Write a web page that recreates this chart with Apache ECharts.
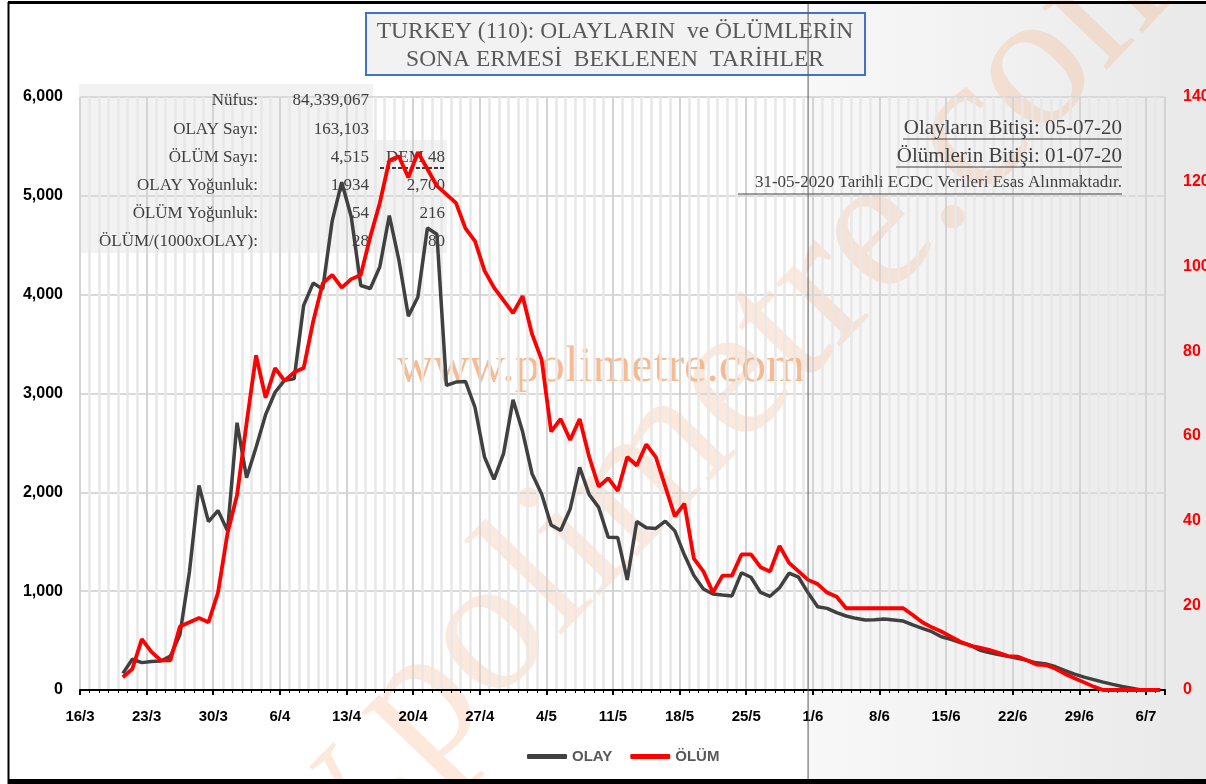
<!DOCTYPE html>
<html lang="tr">
<head>
<meta charset="utf-8">
<title>Turkey olay / ölüm</title>
<script src="https://cdn.jsdelivr.net/npm/echarts@6/dist/echarts.min.js"></script>
</head>
<body style="margin:0;background:#fff">
<div id="container" style="width:1206px;height:784px"></div>
<script type="text/javascript">
// x ekseni 16/3'ten itibaren gün sayısı, etiketler haftalık
var weekLabels = ['16/3', '23/3', '30/3', '6/4', '13/4', '20/4', '27/4', '4/5', '11/5', '18/5', '25/5', '1/6', '8/6', '15/6', '22/6', '29/6', '6/7'];
var firstDay = 4;    // ilk veri: 20/3
var lastDataDay = 76; // 31/5 - ECDC verisinin son günü, sonrası tahmin

// günlük OLAY (20/3 - 7/7)
var olay = [168, 311, 277, 289, 293, 343, 561, 1196, 2069, 1704,
    1815, 1610, 2704, 2148, 2456, 2786, 3013, 3135, 3148, 3892,
    4117, 4056, 4747, 5138, 4789, 4093, 4062, 4281, 4801, 4353,
    3783, 3977, 4674, 4611, 3083, 3116, 3122, 2861, 2357, 2131,
    2392, 2936, 2615, 2188, 1983, 1670, 1614, 1832, 2253, 1977,
    1848, 1546, 1542, 1114, 1704, 1641, 1635, 1708, 1610, 1368,
    1158, 1022, 972, 961, 952, 1186, 1141, 987, 948, 1035,
    1182, 1141, 983,
    843, 826, 782, 749, 725, 708, 712, 718, 708, 698,
    658, 624, 590, 539, 513, 480, 455, 405, 380, 360,
    340, 321, 300, 275, 263, 235, 195, 160, 130, 105,
    80, 57, 35, 18, 0, 0, 0];

// günlük ÖLÜM (20/3 - 7/7)
var olum = [3, 5, 12, 9, 7, 7, 15, 16, 17, 16,
    23, 37, 46, 63, 79, 69, 76, 73, 75, 76,
    87, 96, 98, 95, 97, 98, 107, 115, 125, 126,
    121, 127, 123, 119, 117, 115, 109, 106, 99, 95,
    92, 89, 93, 84, 78, 61, 64, 59, 64, 55,
    48, 50, 47, 55, 53, 58, 55, 48, 41, 44,
    31, 28, 23, 27, 27, 32, 32, 29, 28, 34,
    30, 28, 26,
    25, 23, 22, 19.3, 19.3, 19.3, 19.3, 19.3, 19.3, 19.3,
    17.7, 16, 14.8, 13.8, 12.6, 11.4, 10.5, 10, 9.5, 8.8,
    8, 7.9, 7, 6, 5.9, 5, 3.8, 2.8, 1.8, 0.8,
    0, 0, 0, 0, 0, 0, 0];

var tableLabels = ['Nüfus:', 'OLAY Sayı:', 'ÖLÜM Sayı:', 'OLAY Yoğunluk:', 'ÖLÜM Yoğunluk:', 'ÖLÜM/(1000xOLAY):'];
var tableCol1 = ['84,339,067', '163,103', '4,515', '1,934', '54', '28'];
var tableCol2 = ['', '', 'DEM 48', '2,700', '216', '80'];
var endTexts = ['Olayların Bitişi: 05-07-20', 'Ölümlerin Bitişi: 01-07-20', '31-05-2020 Tarihli ECDC Verileri Esas Alınmaktadır.'];

function toPoints(arr) {
    return arr.map(function (v, k) { return [firstDay + k + 0.5, v]; });
}

var serif = '"Liberation Serif", "Times New Roman", serif';
var sans = '"Liberation Sans", Arial, sans-serif';

var myChart = echarts.init(document.getElementById('container'));
var option = {
    backgroundColor: '#fff',
    animation: false,
    grid: { left: 80, right: 41, top: 97, bottom: 94, containLabel: false, outerBoundsMode: 'none' },
    legend: {
        data: ['OLAY', 'ÖLÜM'],
        top: 744,
        left: 522,
        icon: 'roundRect',
        itemWidth: 40,
        itemHeight: 5,
        itemGap: 18,
        textStyle: { color: '#595959', fontWeight: 'bold', fontSize: 15, fontFamily: sans }
    },
    xAxis: {
        type: 'value',
        min: 0,
        max: 114,
        interval: 7,
        axisLine: { lineStyle: { color: '#000', width: 2 } },
        axisTick: { show: true, length: 5, lineStyle: { color: '#000', width: 2 } },
        minorTick: { show: true, splitNumber: 7, length: 3, lineStyle: { color: '#000', width: 1 } },
        splitLine: { show: true, lineStyle: { color: '#d4d4d4', width: 2 } },
        minorSplitLine: { show: true, lineStyle: { color: '#e8e8e8', width: 2.5 } },
        axisLabel: {
            margin: 19,
            color: '#000',
            fontWeight: 'bold',
            fontSize: 15,
            fontFamily: sans,
            formatter: function (v) {
                return v % 7 === 0 ? (weekLabels[v / 7] || '') : '';
            }
        }
    },
    yAxis: [{
        type: 'value',
        min: 0,
        max: 6000,
        interval: 1000,
        axisLine: { show: false },
        axisTick: { show: false },
        splitLine: { lineStyle: { color: '#d9d9d9', width: 2 } },
        axisLabel: {
            margin: 17,
            color: '#000',
            fontWeight: 'bold',
            fontSize: 16,
            fontFamily: sans,
            formatter: function (v) { return v.toLocaleString('en-US'); }
        }
    }, {
        type: 'value',
        min: 0,
        max: 140,
        interval: 20,
        position: 'right',
        axisLine: { show: false },
        axisTick: { show: false },
        splitLine: { show: false },
        axisLabel: {
            margin: 18,
            color: '#ff0000',
            fontWeight: 'bold',
            fontSize: 16,
            fontFamily: sans
        }
    }],
    series: [{
        name: 'OLAY',
        type: 'line',
        yAxisIndex: 0,
        showSymbol: false,
        symbol: 'none',
        color: '#404040',
        lineStyle: { color: '#404040', width: 3.5 },
        data: toPoints(olay),
        z: 3
    }, {
        name: 'ÖLÜM',
        type: 'line',
        yAxisIndex: 1,
        showSymbol: false,
        symbol: 'none',
        color: '#ff0000',
        lineStyle: { color: '#ff0000', width: 3.8 },
        data: toPoints(olum),
        z: 4
    }]
};
myChart.setOption(option);

// tahmin bölgesi ve yazılar
var cutX = myChart.convertToPixel({ xAxisIndex: 0 }, lastDataDay + 0.5);
var g = [];
g.push({
    type: 'rect', z: -20, silent: true,
    shape: { x: cutX, y: 3, width: 1206 - cutX, height: 780 },
    style: {
        fill: new echarts.graphic.LinearGradient(0, 0, 1, 0, [
            { offset: 0, color: '#f8f8f8' }, { offset: 1, color: '#e9e9e9' }
        ])
    }
});
// tablo arka planı
g.push({ type: 'rect', z: -15, silent: true, shape: { x: 79, y: 84, width: 294, height: 169 }, style: { fill: '#f2f2f2' } });
g.push({ type: 'rect', z: -15, silent: true, shape: { x: 373, y: 140, width: 74, height: 113 }, style: { fill: '#f2f2f2' } });
// filigran
g.push({
    type: 'text', z: -10, silent: true, x: 620, y: 500, rotation: 46 * Math.PI / 180,
    style: { text: 'www.polimetre.com', font: '195px ' + serif, fill: 'rgba(244,177,131,0.28)', textAlign: 'center', textVerticalAlign: 'middle' }
});
g.push({
    type: 'text', z: -9, silent: true, x: 601, y: 368,
    style: { text: 'www.polimetre.com', font: '50px ' + serif, fill: 'rgba(244,170,120,0.8)', textAlign: 'center', textVerticalAlign: 'middle' }
});
tableLabels.forEach(function (t, k) {
    var y = 101 + k * 28.2;
    g.push({ type: 'text', z: 1, silent: true, x: 258, y: y, style: { text: t, font: '17px ' + serif, fill: '#404040', textAlign: 'right', textVerticalAlign: 'middle' } });
    g.push({ type: 'text', z: 1, silent: true, x: 369, y: y, style: { text: tableCol1[k], font: '17px ' + serif, fill: '#404040', textAlign: 'right', textVerticalAlign: 'middle' } });
    if (tableCol2[k]) {
        g.push({ type: 'text', z: 1, silent: true, x: 445, y: y, style: { text: tableCol2[k], font: '17px ' + serif, fill: '#404040', textAlign: 'right', textVerticalAlign: 'middle' } });
    }
});
g.push({ type: 'line', z: 1, silent: true, shape: { x1: 380, y1: 168, x2: 445, y2: 168 }, style: { stroke: '#000', lineWidth: 1.5, lineDash: [4, 2] } });
// sağ üst yazılar
var endY = [128, 156, 183];
var endSize = [21, 21, 17];
var endStart = [903, 896, 738];
endTexts.forEach(function (t, k) {
    g.push({ type: 'text', z: 5, silent: true, x: 1122, y: endY[k], style: { text: t, font: endSize[k] + 'px ' + serif, fill: '#404040', textAlign: 'right', textVerticalAlign: 'middle' } });
    g.push({ type: 'line', z: 5, silent: true, shape: { x1: endStart[k], y1: endY[k] + 11, x2: 1122, y2: endY[k] + 11 }, style: { stroke: '#404040', lineWidth: 1 } });
});
// başlık kutusu
g.push({ type: 'rect', z: 10, silent: true, shape: { x: 366, y: 13, width: 499, height: 62 }, style: { fill: '#f2f2f2', stroke: '#4472c4', lineWidth: 2 } });
g.push({ type: 'text', z: 11, silent: true, x: 615, y: 32, style: { text: 'TURKEY (110): OLAYLARIN  ve ÖLÜMLERİN', font: '23.5px ' + serif, fill: '#595959', textAlign: 'center', textVerticalAlign: 'middle' } });
g.push({ type: 'text', z: 11, silent: true, x: 615, y: 60, style: { text: 'SONA ERMESİ  BEKLENEN  TARİHLER', font: '23.5px ' + serif, fill: '#595959', textAlign: 'center', textVerticalAlign: 'middle' } });
// çerçeve ve 31/5 çizgisi
g.push({ type: 'line', z: 12, silent: true, shape: { x1: cutX, y1: 3, x2: cutX, y2: 784 }, style: { stroke: '#595959', lineWidth: 1 } });
g.push({ type: 'line', z: 12, silent: true, shape: { x1: 8, y1: 2.5, x2: 1206, y2: 2.5 }, style: { stroke: '#000', lineWidth: 3 } });
g.push({ type: 'line', z: 12, silent: true, shape: { x1: 8.5, y1: 2, x2: 8.5, y2: 784 }, style: { stroke: '#000', lineWidth: 2 } });
g.push({ type: 'line', z: 12, silent: true, shape: { x1: 8, y1: 781.5, x2: 1206, y2: 781.5 }, style: { stroke: '#000', lineWidth: 5 } });

myChart.setOption({ graphic: g });
</script>
</body>
</html>
